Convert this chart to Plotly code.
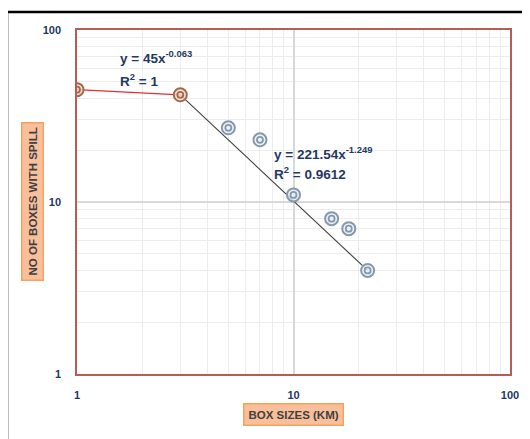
import plotly.graph_objects as go

# Data
box_sizes_small = [1, 3]
boxes_small = [45, 42]
box_sizes_large = [3, 5, 7, 10, 15, 18, 22]
boxes_large = [42, 27, 23, 11, 8, 7, 4]
x_tick_vals = [1, 10, 100]
y_tick_vals = [1, 10, 100]
minor_vals = [m * 10 ** k for k in range(0, 2) for m in range(2, 10)]

brown = "#a5694a"
blue = "#8499ad"
navy = "#1f3864"

fig = go.Figure()

# red segment (first trend)
fig.add_trace(go.Scatter(x=box_sizes_small, y=boxes_small, mode="lines",
                         line=dict(color="#e03030", width=1.3), hoverinfo="skip"))
# black trendline (power fit segment)
fig.add_trace(go.Scatter(x=[box_sizes_large[0], box_sizes_large[-1]],
                         y=[boxes_large[0], boxes_large[-1]], mode="lines",
                         line=dict(color="#404040", width=1.1), hoverinfo="skip"))

def add_markers(xs, ys, color, fill):
    fig.add_trace(go.Scatter(x=xs, y=ys, mode="markers",
                             marker=dict(symbol="circle", size=13, color=fill,
                                         line=dict(color=color, width=2)), hoverinfo="skip"))
    fig.add_trace(go.Scatter(x=xs, y=ys, mode="markers",
                             marker=dict(symbol="circle-open", size=6, color=color,
                                         line=dict(color=color, width=1.8)), hoverinfo="skip"))

add_markers(box_sizes_large[1:], boxes_large[1:], blue, "rgba(235,240,245,0.8)")
add_markers(box_sizes_small, boxes_small, brown, "rgba(240,225,215,0.8)")

axis_common = dict(
    type="log",
    showgrid=True, gridcolor="#d9d9d9", gridwidth=1.5,
    minor=dict(showgrid=True, gridcolor="#ededed", gridwidth=1, ticks="", tickvals=minor_vals),
    zeroline=False,
    showline=True, linecolor="#b85c57", linewidth=1.5, mirror=True,
    tickfont=dict(family="Liberation Sans", size=11, color=navy, weight="bold"),
    ticks="",
)

fig.update_xaxes(**axis_common)
fig.update_yaxes(**axis_common)
fig.update_xaxes(range=[0, 2], tickvals=x_tick_vals, ticktext=[str(v) for v in x_tick_vals],
                 ticklabelstandoff=10)
fig.update_yaxes(range=[0, 2], tickvals=y_tick_vals, ticktext=[str(v) for v in y_tick_vals],
                 ticklabelstandoff=12)

ann_font = dict(family="Liberation Sans", size=13.5, color=navy, weight="bold")
annotations = [
    dict(x=(118 - 77) / 433, y=(374 - 57) / 344, text="y = 45x<sup>-0.063</sup>"),
    dict(x=(118 - 77) / 433, y=(374 - 80) / 344, text="R<sup>2</sup> = 1"),
    dict(x=(272 - 77) / 433, y=(374 - 153) / 344, text="y = 221.54x<sup>-1.249</sup>"),
    dict(x=(272 - 77) / 433, y=(374 - 173) / 344, text="R<sup>2</sup> = 0.9612"),
]
for a in annotations:
    a.update(xref="paper", yref="paper", showarrow=False, xanchor="left", yanchor="middle",
             font=ann_font)

title_font = dict(family="Liberation Sans", size=11.5, color="#404040", weight="bold")
annotations.append(dict(x=(32 - 77) / 433, y=(374 - 202) / 344, xref="paper", yref="paper",
                        text="NO OF BOXES WITH SPILL", textangle=-90, showarrow=False,
                        font=title_font, bgcolor="#f9bf9b", bordercolor="#f4a25f", borderwidth=1.5,
                        borderpad=4, xanchor="center", yanchor="middle"))
annotations.append(dict(x=(293 - 77) / 433, y=(374 - 414) / 344, xref="paper", yref="paper",
                        text="BOX SIZES (KM)", showarrow=False,
                        font=title_font, bgcolor="#f9bf9b", bordercolor="#f4a25f", borderwidth=1.5,
                        borderpad=4, xanchor="center", yanchor="middle"))

# page body has an 8px default margin; compensate so the plot area lands at the reference position
fig.update_layout(
    width=530, height=439,
    margin=dict(l=69, r=28, t=22, b=73),
    paper_bgcolor="white", plot_bgcolor="white",
    showlegend=False,
    annotations=annotations,
    shapes=[dict(type="rect", xref="paper", yref="paper",
                 x0=(7 - 77) / 433, x1=1.2, y0=-0.5, y1=1 + (30 - 12) / 344,
                 line=dict(color="black", width=2.5), layer="above")],
)

fig.write_html("out.html")
